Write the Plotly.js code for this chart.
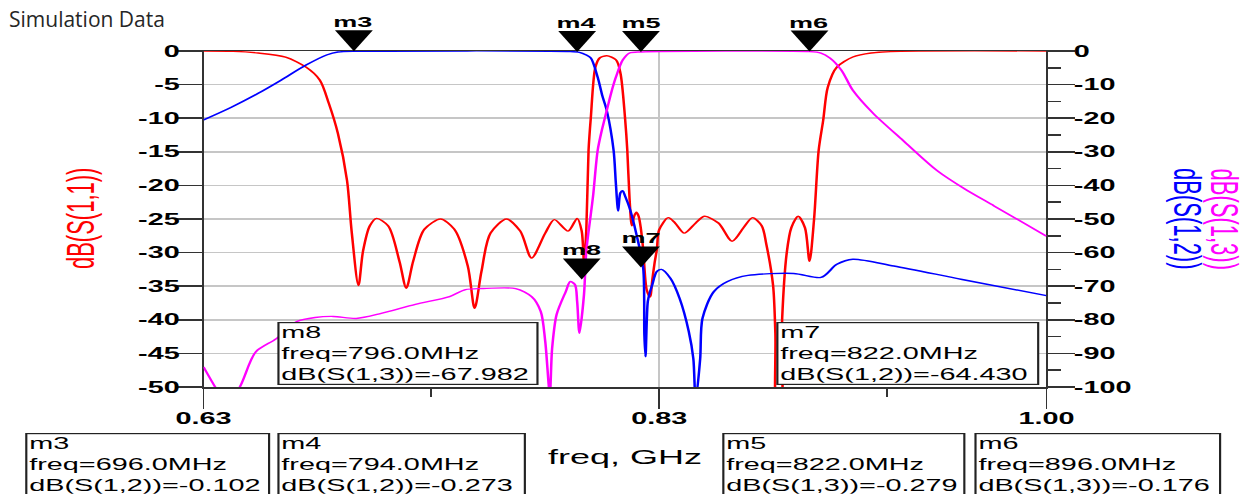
<!DOCTYPE html>
<html>
<head>
<meta charset="utf-8">
<script src="https://cdn.plot.ly/plotly-3.0.1.min.js"></script>
<style>
html,body{margin:0;padding:0;background:#fff;overflow:hidden;}
#wrap{position:relative;width:1250px;height:494px;overflow:hidden;background:#fff;}
#chart{position:absolute;left:0;top:0;width:720px;height:494px;transform:scaleX(1.80115);transform-origin:0 0;}
#caption{position:absolute;left:9px;top:5px;font-family:'Open Sans',sans-serif;font-size:21px;color:#262626;white-space:nowrap;}
</style>
</head>
<body>
<div id="wrap"><div id="chart"></div><div id="caption">Simulation Data</div></div>
<script>
// ---------------- data (frequency in GHz, values in dB) ----------------
const s11Freq = [0.630,0.643,0.654,0.666,0.675,0.681,0.685,0.689,0.693,0.695,0.698,0.700,0.703,0.706,0.711,0.716,0.719,0.722,0.727,0.734,0.740,0.746,0.749,0.752,0.756,0.763,0.769,0.774,0.780,0.784,0.790,0.794,0.796,0.797,0.798,0.799,0.800,0.802,0.804,0.807,0.811,0.813,0.815,0.816,0.817,0.818,0.819,0.820,0.821,0.822,0.823,0.8245,0.826,0.827,0.828,0.829,0.830,0.834,0.837,0.841,0.846,0.850,0.856,0.862,0.867,0.871,0.875,0.877,0.880,0.881,0.882,0.883,0.884,0.886,0.888,0.891,0.894,0.896,0.898,0.900,0.902,0.904,0.908,0.915,0.923,0.936,1.000];
const s11dB   = [0,-0.05,-0.3,-0.9,-2.4,-4.3,-7.8,-12.3,-19.3,-26.8,-34.9,-29.8,-26.0,-24.9,-26.0,-31.3,-35.3,-31.3,-26.5,-25.0,-26.5,-32.0,-38.3,-32.8,-27.1,-25.0,-26.8,-30.8,-27.1,-25.1,-26.8,-24.9,-26.8,-31.3,-26.8,-14.8,-9.9,-2.4,-1.0,-0.7,-1.3,-3.3,-9.9,-14.7,-22.0,-26.0,-24.6,-24.0,-24.6,-26.5,-29.6,-35.5,-36.6,-34.0,-31.5,-29.5,-26.6,-24.8,-25.6,-27.1,-25.6,-24.6,-25.6,-28.3,-26.3,-24.8,-26.0,-28.7,-34.9,-42.0,-56.0,-56.0,-39.7,-30.0,-26.3,-24.6,-26.3,-31.3,-25.0,-14.8,-10.3,-5.4,-2.4,-0.9,-0.3,-0.05,0];

const s12Freq = [0.630,0.642,0.654,0.664,0.675,0.684,0.689,0.698,0.791,0.795,0.798,0.800,0.803,0.805,0.807,0.810,0.811,0.812,0.813,0.814,0.815,0.817,0.820,0.823,0.8235,0.824,0.825,0.826,0.827,0.829,0.831,0.835,0.839,0.843,0.845,0.846,0.848,0.849,0.854,0.860,0.869,0.889,0.901,0.908,0.915,0.933,0.963,1.000];
const s12dB   = [-20.5,-16.8,-12.6,-8.7,-4.2,-1.2,-0.3,-0.1,-0.15,-0.4,-1.2,-2.1,-7.8,-13.2,-17.7,-29.6,-39.5,-47.6,-42.2,-41.6,-43.1,-46.7,-54.5,-64.7,-84.4,-91.0,-74.6,-71.6,-69.5,-65.6,-65.0,-67.7,-73.7,-83.5,-91.6,-104.0,-91.6,-79.6,-71.6,-68.6,-66.8,-66.2,-67.4,-63.5,-62.0,-64.0,-68.0,-72.8];

const s13Freq = [0.630,0.636,0.639,0.645,0.653,0.662,0.671,0.679,0.687,0.697,0.708,0.723,0.738,0.745,0.752,0.767,0.774,0.778,0.780,0.782,0.783,0.785,0.789,0.791,0.793,0.794,0.795,0.797,0.798,0.800,0.801,0.803,0.805,0.807,0.809,0.811,0.814,0.817,0.822,0.896,0.901,0.905,0.910,0.915,0.924,0.937,0.952,0.964,0.977,1.000];
const s13dB   = [-94.0,-101.0,-104.0,-101.0,-89.5,-85.6,-80.5,-79.3,-79.0,-79.6,-78.1,-75.4,-73.1,-71.0,-70.7,-70.7,-73.1,-77.5,-86.5,-102.0,-88.6,-78.4,-71.6,-68.6,-69.5,-74.6,-84.0,-72.5,-59.6,-48.5,-43.1,-29.6,-23.1,-17.7,-12.3,-7.8,-2.7,-0.6,-0.28,-0.18,-0.6,-2.1,-5.7,-11.7,-18.6,-26.6,-35.6,-41.0,-46.1,-55.1];

// marker readouts
const markerNames   = ['m3','m4','m5','m6','m7','m8'];
const markerFreqMHz = [696.0, 794.0, 822.0, 896.0, 822.0, 796.0];
const markerParam   = ['S(1,2)','S(1,2)','S(1,3)','S(1,3)','S(1,2)','S(1,3)'];
const markerValues  = [-0.102, -0.273, -0.279, -0.176, -64.430, -67.982];

// ticks
const xTickVals = [0.63, 0.83, 1.00];
const xTickText = ['0.63', '0.83', '1.00'];
const xMinorVals = [0.73, 0.93];
const leftTickVals = [0,-5,-10,-15,-20,-25,-30,-35,-40,-45,-50];
const leftTickText = ['0','-5','-10','-15','-20','-25','-30','-35','-40','-45','-50'];
const rightTickVals = [0,-10,-20,-30,-40,-50,-60,-70,-80,-90,-100];
const rightTickText = ['0','-10','-20','-30','-40','-50','-60','-70','-80','-90','-100'];
const rightMinorVals = [-5,-15,-25,-35,-45,-55,-65,-75,-85,-95];

// ---------------- geometry / style ----------------
const K = 1250 / 694;             // horizontal stretch of the original picture
const W = 720, H = 494;
const ML = 204 / K, PW = 842 / K, MR = W - ML - PW, MT = 51, MB = 107;
const PH = H - MT - MB;
function paperX(px) { return (px / K - ML) / PW; }
function paperY(py) { return (H - MB - py) / PH; }

const FONT = 'Liberation Sans, Arial, sans-serif';
const tickFont = {family: FONT, size: 16, weight: 'bold', color: '#000'};
const AX = '#333333', GRID = '#c6c6c6';

// readout box placement (reference pixel positions: left, top, width)
const boxLeft  = {m3: 25,  m4: 278, m5: 722, m6: 974,  m7: 777, m8: 277};
const boxTop   = {m3: 433, m4: 433, m5: 433, m6: 433,  m7: 322, m8: 322};
const boxWidth = {m3: 246, m4: 250, m5: 245, m6: 248,  m7: 264, m8: 262};

const lineStyle = c => ({color: c, width: 1.4, shape: 'spline', smoothing: 0.8});
const traces = [
  {x: s12Freq, y: s12dB, yaxis: 'y2', type: 'scatter', mode: 'lines', name: 'dB(S(1,2))', line: lineStyle('#0000ff')},
  {x: s13Freq, y: s13dB, yaxis: 'y2', type: 'scatter', mode: 'lines', name: 'dB(S(1,3))', line: lineStyle('#ff00ff')},
  {x: s11Freq, y: s11dB, yaxis: 'y',  type: 'scatter', mode: 'lines', name: 'dB(S(1,1))', line: lineStyle('#ff0000')},
  {x: markerFreqMHz.map(f => f / 1000), y: markerValues, yaxis: 'y2', type: 'scatter', mode: 'markers',
   cliponaxis: false, name: 'markers',
   marker: {symbol: 'arrow-down', size: 21, color: '#000', line: {width: 0}}}
];

const annotations = [];
markerNames.forEach((n, i) => {
  annotations.push({
    x: markerFreqMHz[i] / 1000, y: markerValues[i], xref: 'x', yref: 'y2',
    text: n, showarrow: false, yanchor: 'bottom', xanchor: 'center', yshift: 19,
    font: {family: FONT, size: 15, weight: 'bold', color: '#000'}
  });
  annotations.push({
    x: paperX(boxLeft[n]), y: paperY(boxTop[n]), xref: 'paper', yref: 'paper',
    xanchor: 'left', yanchor: 'top', align: 'left', valign: 'top', showarrow: false,
    width: boxWidth[n] / K - 5,
    text: n + '<br>freq=' + markerFreqMHz[i].toFixed(1) + 'MHz<br>dB(' + markerParam[i] + ')=' + markerValues[i].toFixed(3),
    font: {family: FONT, size: 16, color: '#000'},
    bgcolor: '#ffffff', bordercolor: '#222', borderwidth: 1.2, borderpad: 1
  });
});
annotations.push({x: paperX(80), y: 0.5, xref: 'paper', yref: 'paper', xanchor: 'center', yanchor: 'middle',
  showarrow: false, textangle: -90, text: 'dB(S(1,1))', font: {family: FONT, size: 22, color: '#ff0000'}});
annotations.push({x: paperX(1188), y: 0.5, xref: 'paper', yref: 'paper', xanchor: 'center', yanchor: 'middle',
  showarrow: false, textangle: 90, text: 'dB(S(1,2))', font: {family: FONT, size: 22, color: '#0000ff'}});
annotations.push({x: paperX(1225), y: 0.5, xref: 'paper', yref: 'paper', xanchor: 'center', yanchor: 'middle',
  showarrow: false, textangle: 90, text: 'dB(S(1,3))', font: {family: FONT, size: 22, color: '#ff00ff'}});

const layout = {
  width: W, height: H,
  margin: {l: ML, r: MR, t: MT, b: MB, pad: 0},
  paper_bgcolor: '#ffffff', plot_bgcolor: '#ffffff',
  showlegend: false,
  xaxis: {
    range: [0.63, 1.00], tickmode: 'array', tickvals: xTickVals, ticktext: xTickText,
    ticks: 'outside', ticklen: 20, tickwidth: 1, tickcolor: AX, ticklabelstandoff: -4,
    showgrid: true, gridcolor: GRID, gridwidth: 1,
    showline: true, linecolor: AX, linewidth: 1.5, mirror: true, zeroline: false,
    layer: 'below traces', tickfont: tickFont,
    minor: {tickmode: 'array', tickvals: xMinorVals, ticks: 'outside', ticklen: 8, tickwidth: 1, tickcolor: AX, showgrid: false},
    title: {text: 'freq, GHz', font: {family: FONT, size: 20, color: '#000'}, standoff: 24}
  },
  yaxis: {
    range: [-50, 0], tickmode: 'array', tickvals: leftTickVals, ticktext: leftTickText,
    ticks: 'outside', ticklen: 15, tickwidth: 1.5, tickcolor: AX, ticklabelstandoff: -6,
    showgrid: true, gridcolor: GRID, gridwidth: 1.5,
    showline: true, linecolor: AX, linewidth: 1, zeroline: false,
    layer: 'below traces', tickfont: tickFont
  },
  yaxis2: {
    range: [-100, 0], overlaying: 'y', side: 'right', tickmode: 'array',
    tickvals: rightTickVals, ticktext: rightTickText,
    ticks: 'outside', ticklen: 15, tickwidth: 1.5, tickcolor: AX, ticklabelstandoff: -4,
    showgrid: false, showline: true, linecolor: AX, linewidth: 1, zeroline: false,
    layer: 'below traces', tickfont: tickFont,
    minor: {tickmode: 'array', tickvals: rightMinorVals, ticks: 'outside', ticklen: 7, tickwidth: 1.5, tickcolor: AX, showgrid: false}
  },
  annotations: annotations
};

Plotly.newPlot('chart', traces, layout, {staticPlot: true, displayModeBar: false});
</script>
</body>
</html>
